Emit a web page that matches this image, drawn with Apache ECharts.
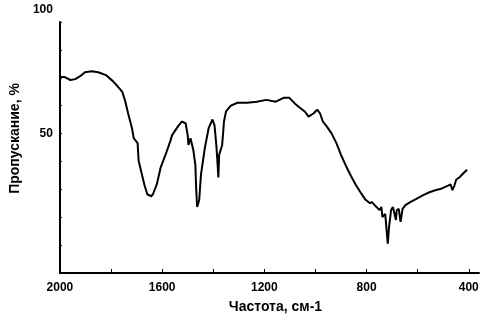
<!DOCTYPE html>
<html>
<head>
<meta charset="utf-8">
<script src="https://cdn.jsdelivr.net/npm/echarts@6/dist/echarts.min.js"></script>
<style>html,body{margin:0;padding:0;background:#fff}#c{width:486px;height:319px}</style>
</head>
<body>
<div id="c"></div>
<script>
var wavenumbers = [2000,1981,1959,1940,1921,1902,1876,1850,1820,1793,1775,1756,1745,1733,1718,1711,1696,1692,1681,1669,1658,1643,1636,1621,1606,1587,1568,1561,1538,1523,1508,1500,1497,1489,1478,1470,1467,1463,1455,1448,1433,1418,1403,1395,1388,1384,1380,1377,1365,1358,1350,1331,1305,1268,1230,1192,1155,1125,1102,1080,1061,1042,1027,1008,993,982,971,956,937,918,900,881,862,843,824,806,787,779,768,761,749,742,738,727,722,717,712,704,697,685,682,674,667,659,648,629,607,580,554,531,505,479,471,464,456,449,437,422,407];
var transmittance = [75.3,75.3,74.0,74.4,75.7,77.5,77.9,77.5,76.2,73.5,71.3,68.7,64.7,59.0,52.4,47.9,45.7,37.8,32.5,26.8,22.8,21.9,22.8,27.2,34.7,40.4,46.6,49.3,53.2,55.4,54.6,49.3,44.9,47.9,42.6,36.0,25.9,17.1,20.1,31.6,43.5,52.4,56.3,53.7,44.9,38.2,30.3,40.4,44.9,55.4,59.9,62.5,63.8,63.8,64.3,65.1,64.3,66.0,66.0,63.4,61.6,59.9,57.6,59.0,60.7,59.0,55.4,53.2,50.1,45.7,40.4,35.6,31.2,27.2,23.7,20.6,18.8,19.3,17.9,17.5,15.7,17.1,12.6,14.0,7.3,0.7,8.2,15.7,17.1,11.3,15.7,16.2,10.4,16.2,17.9,19.3,20.6,22.3,23.7,24.6,25.4,26.8,27.2,24.6,26.8,29.4,30.3,32.1,33.8];
var xTickValues = [2000,1800,1600,1400,1200,1000,800,600,400];
var xLabelValues = [2000,1600,1200,800,400];
var yLabelValues = [50,100];
var xTitle = 'Частота, см-1';
var yTitle = 'Пропускание, %';

var seriesData = wavenumbers.map(function(w,i){ return [w, transmittance[i]]; });
var chart = echarts.init(document.getElementById('c'), null, {renderer:'canvas'});
var font = 'Liberation Sans, Arial, sans-serif';
chart.setOption({
  animation: false,
  backgroundColor: '#fff',
  grid: {left: 42, right: 7, top: 22, bottom: 42, containLabel: false},
  xAxis: {
    type: 'value', inverse: true, min: 360, max: 2000,
    name: xTitle, nameLocation: 'middle', nameGap: 27,
    nameTextStyle: {color:'#000', fontFamily: font, fontWeight:'bold', fontSize: 14, padding:[0,0,0,12]},
    axisLine: {show:true, onZero:false, lineStyle:{color:'#000', width:2}},
    axisTick: {show:true, inside:true, length:4, customValues: xTickValues, lineStyle:{color:'#000', width:1}},
    axisLabel: {customValues: xLabelValues, color:'#000', fontFamily: font, fontWeight:'bold', fontSize: 12, margin: 9,
      formatter: function(v){ return String(v); }},
    splitLine: {show:false}
  },
  yAxis: {
    type: 'value', min: -12.5, max: 100, interval: 12.5,
    name: yTitle, nameLocation: 'middle', nameGap: 21, nameRotate: 90,
    nameTextStyle: {color:'#000', fontFamily: font, fontWeight:'bold', fontSize: 14, padding:[0,0,0,18]},
    axisLine: {show:true, onZero:false, lineStyle:{color:'#000', width:2}},
    axisTick: {show:true, inside:true, length:2, lineStyle:{color:'#000', width:1}},
    axisLabel: {
      color:'#000', fontFamily: font, fontWeight:'bold', fontSize: 12, margin: 7,
      formatter: function(v){
        if (yLabelValues.indexOf(v) < 0) return '';
        return v === 100 ? '{up|' + v + '}' : String(v);
      },
      rich: {up: {padding:[0,0,24,0], fontWeight:'bold', fontSize:12, fontFamily: font, color:'#000'}}
    },
    splitLine: {show:false}
  },
  series: [{
    type: 'line', data: seriesData, showSymbol: false, smooth: false,
    lineStyle: {color:'#000', width:2}
  }]
});
</script>
</body>
</html>
